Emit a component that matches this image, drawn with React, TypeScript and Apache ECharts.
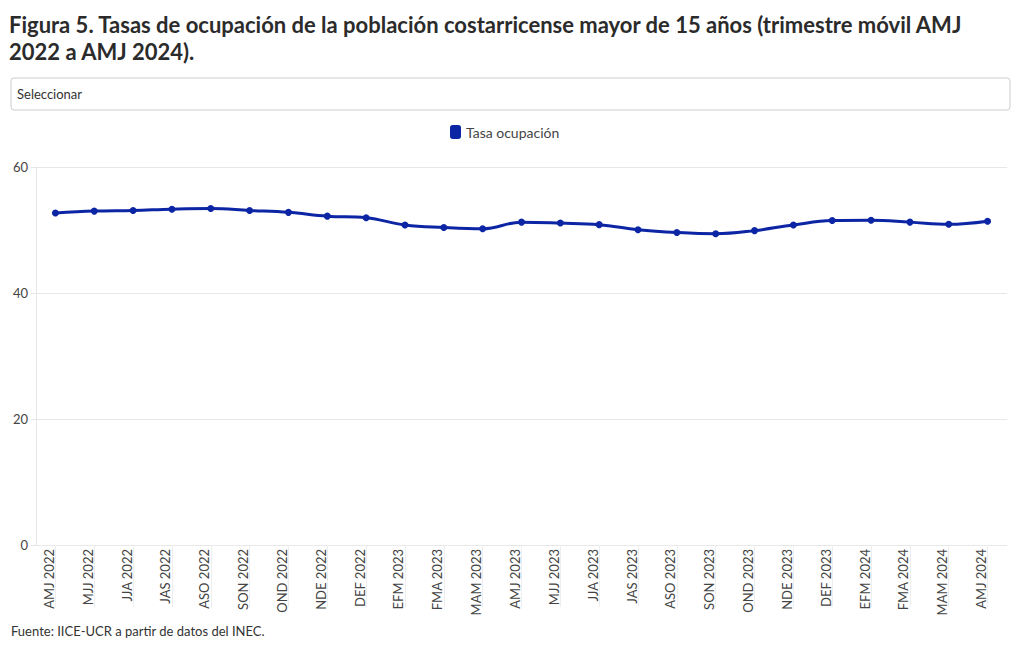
import React, { useEffect, useRef } from "react";
import * as echarts from "echarts";

const categories = [
  "AMJ 2022", "MJJ 2022", "JJA 2022", "JAS 2022", "ASO 2022", "SON 2022", "OND 2022", "NDE 2022", "DEF 2022",
  "EFM 2023", "FMA 2023", "MAM 2023", "AMJ 2023", "MJJ 2023", "JJA 2023", "JAS 2023", "ASO 2023", "SON 2023",
  "OND 2023", "NDE 2023", "DEF 2023", "EFM 2024", "FMA 2024", "MAM 2024", "AMJ 2024",
];
const tasaOcupacion = [
  52.7, 53.0, 53.1, 53.3, 53.4, 53.1, 52.8, 52.2, 51.95,
  50.8, 50.4, 50.2, 51.25, 51.1, 50.85, 50.05, 49.6, 49.4,
  49.9, 50.8, 51.5, 51.55, 51.25, 50.9, 51.4,
];
const yTicks = { min: 0, max: 60, interval: 20 };

const FONT = "Lato";
const TITLE = "Figura 5. Tasas de ocupación de la población costarricense mayor de 15 años (trimestre móvil AMJ\n2022 a AMJ 2024).";
const SOURCE = "Fuente: IICE-UCR a partir de datos del INEC.";

export default function App() {
  const ref = useRef<HTMLDivElement>(null);
  useEffect(() => {
    if (!ref.current) return;
    const chart = echarts.init(ref.current, undefined, { renderer: "svg" });
    const color = "#0c25a4";
    chart.setOption({
      animation: false,
      textStyle: { fontFamily: FONT },
      title: {
        text: TITLE,
        left: 4,
        top: 6,
        textStyle: { fontFamily: FONT, fontSize: 22, fontWeight: "bold", color: "#2b2b2b", lineHeight: 27 },
      },
      legend: {
        top: 120,
        left: 445,
        icon: "roundRect",
        itemWidth: 11,
        itemHeight: 14,
        textStyle: { fontFamily: FONT, fontSize: 14, color: "#444" },
        data: ["Tasa ocupación"],
      },
      grid: { left: 36, right: 13, top: 167, bottom: 105 },
      xAxis: {
        type: "category",
        data: categories,
        boundaryGap: true,
        axisLine: { show: false },
        axisTick: { show: true, alignWithLabel: true, length: 62, lineStyle: { color: "#eeeeee" } },
        axisLabel: { rotate: 90, fontFamily: FONT, fontSize: 13, color: "#444", margin: 4, verticalAlign: "bottom" },
        splitLine: { show: false },
      },
      yAxis: {
        type: "value",
        min: yTicks.min,
        max: yTicks.max,
        interval: yTicks.interval,
        axisLine: { show: true, lineStyle: { color: "#e6e6e6" } },
        axisTick: { show: true, length: 5, lineStyle: { color: "#e6e6e6" } },
        axisLabel: { fontFamily: FONT, fontSize: 13, color: "#444", margin: 8 },
        splitLine: { show: true, lineStyle: { color: "#e8e8e8" } },
      },
      series: [
        {
          name: "Tasa ocupación",
          type: "line",
          data: tasaOcupacion,
          smooth: 0.4,
          symbol: "circle",
          symbolSize: 7,
          itemStyle: { color },
          lineStyle: { color, width: 3 },
        },
      ],
      graphic: [
        {
          type: "rect",
          shape: { x: 11, y: 78, width: 999, height: 32, r: 3 },
          style: { fill: "#fff", stroke: "#cccccc", lineWidth: 1 },
        },
        {
          type: "text",
          x: 17,
          y: 94,
          style: { text: "Seleccionar", fontFamily: FONT, fontSize: 13, fill: "#333", verticalAlign: "middle" },
        },
        {
          type: "text",
          x: 11,
          y: 631,
          style: { text: SOURCE, fontFamily: FONT, fontSize: 13, fill: "#333", verticalAlign: "middle" },
        },
      ],
    });
    return () => chart.dispose();
  }, []);
  return <div ref={ref} style={{ position: "absolute", left: 0, top: 0, width: 1020, height: 650 }} />;
}
